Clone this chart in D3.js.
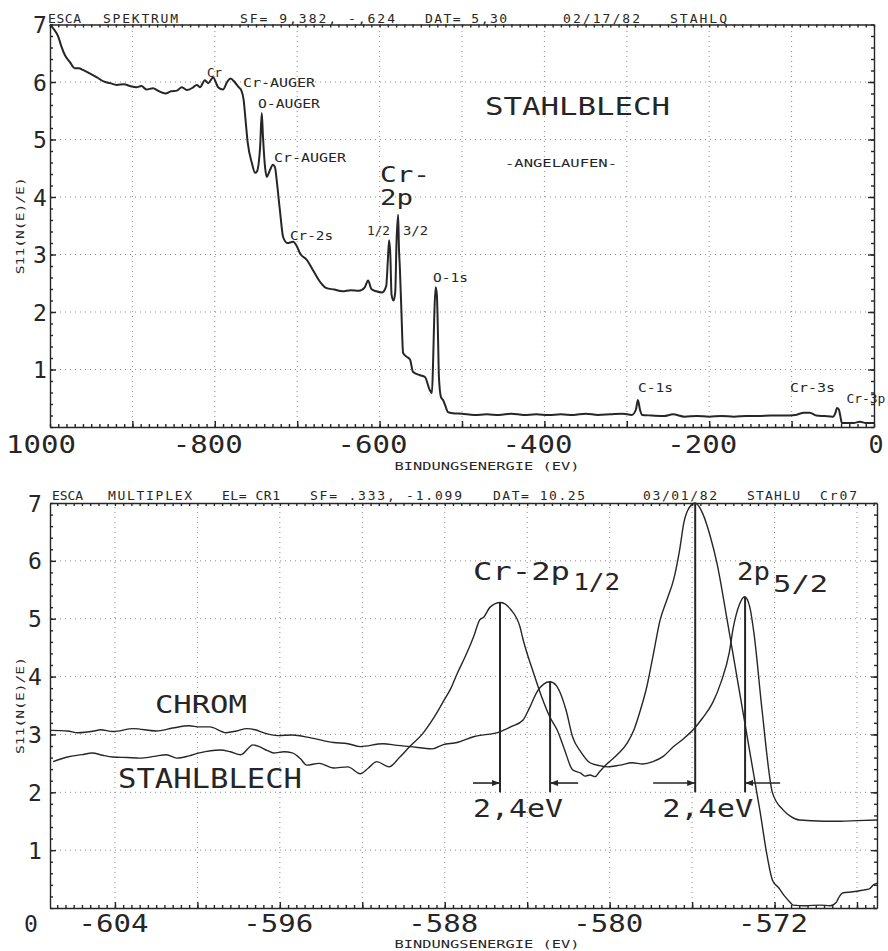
<!DOCTYPE html>
<html><head><meta charset="utf-8">
<script src="https://cdn.jsdelivr.net/npm/d3@7"></script>
<style>
body{margin:0;background:#fff}
.grid{stroke:#8c8c8c;stroke-width:1;stroke-dasharray:1 4;fill:none}
text{font-family:'DejaVu Sans Mono','Liberation Mono',monospace;fill:#262626}
</style>
</head><body>
<svg id="c" width="888" height="951"></svg>
<script>
// ---------------- DATA ----------------
// Survey spectrum (top): binding energy (eV) and signal S11(N(E)/E)
const topEnergy = [-1000,-996,-990,-986,-982,-976,-970,-965,-960,-953,-943,-935,-927,-919,-910,-903,-895,-889,-883,-875,-868,-860,-853,-846,-840,-834,-827,-822,-818,-812,-808,-802,-796,-790,-785,-781,-776,-771,-768,-765,-763,-760,-755,-751,-749,-745,-743,-741.5,-739,-737,-733,-729.5,-727,-724.5,-721,-717,-712,-705,-700,-697,-688,-681,-672,-665,-655,-645,-635,-625,-618,-614,-610,-604,-597,-592,-590,-588.5,-587,-585.5,-583,-581,-579.5,-577.5,-576.5,-575.5,-573.5,-571.5,-567,-563,-559.5,-551,-545,-539,-536.5,-535,-533.5,-532,-530.5,-529,-528,-525.5,-523,-520.5,-517,-511,-500,-485,-470,-455,-440,-425,-410,-395,-380,-365,-350,-335,-320,-305,-294,-289,-286.5,-284,-281.5,-270,-255,-244,-230,-215,-200,-185,-170,-155,-140,-125,-110,-95,-85,-78,-70,-60,-50,-46.5,-45,-42.5,-41,-39,-25,-17,-10,0];
const topSignal = [7.0,6.93,6.79,6.61,6.47,6.35,6.24,6.24,6.21,6.16,6.08,6.01,5.98,5.95,5.96,5.93,5.91,5.93,5.87,5.89,5.84,5.80,5.84,5.85,5.91,5.86,5.90,5.95,5.91,6.03,5.98,6.08,5.91,5.87,6.00,6.06,6.00,5.91,5.86,5.69,5.39,4.94,4.59,4.42,4.44,4.87,5.46,5.04,4.52,4.35,4.47,4.56,4.52,4.24,3.77,3.30,3.20,3.22,3.13,3.03,2.90,2.73,2.52,2.42,2.39,2.36,2.38,2.37,2.43,2.55,2.40,2.36,2.34,2.45,2.90,3.25,3.00,2.30,2.20,2.35,3.20,3.69,3.10,2.80,2.00,1.29,1.22,1.17,0.96,0.90,0.87,0.64,0.59,1.17,2.00,2.43,2.30,1.50,0.87,0.52,0.47,0.38,0.26,0.24,0.23,0.21,0.22,0.21,0.23,0.21,0.22,0.21,0.22,0.21,0.23,0.21,0.22,0.23,0.21,0.30,0.47,0.30,0.21,0.20,0.19,0.22,0.18,0.19,0.18,0.19,0.18,0.19,0.19,0.20,0.20,0.21,0.25,0.25,0.20,0.19,0.18,0.26,0.33,0.30,0.20,0.07,0.07,0.09,0.07,0.07];

// Multiplex Cr-2p (bottom): CHROM
const chromEnergy = [-607.1,-606.3,-605.8,-605.0,-604.7,-604.1,-603.1,-602.0,-601.2,-600.4,-599.9,-599.4,-598.6,-598.1,-597.6,-597.2,-596.8,-596.1,-595.4,-594.5,-593.4,-592.7,-592.1,-591.0,-590.3,-589.7,-588.6,-588.1,-587.4,-586.6,-585.3,-584.8,-584.2,-583.9,-583.5,-583.2,-582.9,-582.6,-582.4,-582.1,-581.8,-581.4,-580.95,-580.5,-580.1,-579.5,-578.9,-578.4,-577.9,-577.4,-576.9,-576.4,-575.95,-575.5,-575.0,-574.6,-574.2,-574.0,-573.7,-573.45,-573.2,-573.0,-572.6,-572.1,-571.6,-571.2,-570.8,-569.6,-568.8,-568.0,-567.0];
const chromSignal = [3.07,3.06,3.03,3.06,3.08,3.05,3.10,3.06,3.11,3.15,3.13,3.13,3.03,3.06,3.10,3.08,3.03,2.98,2.99,2.94,2.86,2.84,2.79,2.84,2.81,2.79,2.75,2.82,2.86,2.96,3.05,3.13,3.25,3.45,3.75,3.87,3.91,3.85,3.72,3.40,2.96,2.70,2.51,2.46,2.44,2.47,2.51,2.49,2.53,2.62,2.79,2.93,3.08,3.28,3.55,3.90,4.41,4.85,5.25,5.38,5.20,4.75,3.40,1.99,1.70,1.58,1.52,1.50,1.50,1.51,1.52];

// Multiplex Cr-2p (bottom): STAHLBLECH
const stahlEnergy = [-607.0,-606.3,-605.6,-605.1,-604.6,-604.1,-603.4,-602.8,-602.1,-601.5,-601.0,-600.4,-599.9,-598.9,-598.4,-597.9,-597.3,-597.0,-596.6,-596.3,-595.8,-595.4,-595.0,-594.7,-594.1,-593.4,-592.7,-592.1,-591.7,-591.3,-590.7,-590.2,-589.7,-589.1,-588.6,-588.1,-587.7,-587.4,-587.0,-586.6,-586.3,-586.1,-585.8,-585.3,-584.8,-584.35,-584.2,-583.7,-583.3,-582.9,-582.55,-582.2,-581.8,-581.4,-581.2,-580.95,-580.7,-580.5,-580.1,-579.6,-579.15,-578.8,-578.5,-578.2,-577.9,-577.55,-577.2,-576.9,-576.6,-576.4,-576.1,-575.85,-575.5,-575.1,-574.8,-574.3,-573.9,-573.5,-573.1,-572.7,-572.36,-572.1,-571.8,-571.5,-571.25,-571.1,-570.5,-569.8,-569.3,-569.0,-568.9,-568.7,-568.2,-567.7,-567.4,-567.2,-567.0];
const stahlSignal = [2.53,2.61,2.65,2.68,2.64,2.61,2.60,2.59,2.62,2.65,2.59,2.63,2.68,2.73,2.70,2.65,2.82,2.79,2.72,2.68,2.70,2.68,2.58,2.47,2.50,2.42,2.44,2.32,2.42,2.53,2.44,2.60,2.79,3.00,3.25,3.55,3.80,4.05,4.35,4.69,4.98,5.03,5.20,5.28,5.16,4.86,4.64,4.07,3.65,3.30,3.08,2.75,2.39,2.33,2.28,2.30,2.27,2.35,2.50,2.66,2.85,3.10,3.43,3.82,4.35,4.98,5.35,5.67,6.20,6.66,6.94,7.00,6.83,6.40,5.97,4.98,4.15,3.32,2.49,1.66,0.90,0.48,0.35,0.20,0.10,0.05,0.04,0.05,0.04,0.10,0.17,0.26,0.28,0.31,0.33,0.40,0.43];

// Peak markers (bottom) and 2,4 eV shifts
const peakEnergy = [-585.32, -582.89, -575.85, -573.43];
const peakTop = [5.28, 3.91, 7.0, 5.38];
const markerBase = 2.0;
const arrowFrom = [-586.63, -581.53, -577.89, -571.73];

// Ticks
const topXTickValues = [-1000, -800, -600, -400, -200, 0];
const topXTickLabels = ["1000", "-800", "-600", "-400", "-200", "0"];
const topYTickValues = [1, 2, 3, 4, 5, 6, 7];
const botXTickValues = [-604, -596, -588, -580, -572];
const botXTickLabels = ["-604", "-596", "-588", "-580", "-572"];
const botYTickValues = [0, 1, 2, 3, 4, 5, 6, 7];

// ---------------- DRAW ----------------
const ink = "#262626";
const svg = d3.select("#c");
svg.append("rect").attr("width", 888).attr("height", 951).attr("fill", "#fff");
const defs = svg.append("defs");
defs.append("marker").attr("id", "ah").attr("viewBox", "0 0 8 6")
  .attr("refX", 8).attr("refY", 3).attr("markerWidth", 8).attr("markerHeight", 6)
  .attr("markerUnits", "userSpaceOnUse").attr("orient", "auto")
  .append("path").attr("d", "M0,0 L8,3 L0,6 Z").attr("fill", ink);

const xTop = d3.scaleLinear().domain([-1000, 0]).range([50, 874]);
const yTop = d3.scaleLinear().domain([0, 7]).range([427, 24.5]);
const xBot = d3.scaleLinear().domain([-607.15, -567.03]).range([50, 877]);
const yBot = d3.scaleLinear().domain([0, 7]).range([908, 503]);

function txt(g, s, x, y, size, len, anchor, adj) {
  const t = g.append("text").attr("x", x).attr("y", y).attr("font-size", size).text(s);
  if (len) t.attr("textLength", len).attr("lengthAdjust", adj || "spacingAndGlyphs");
  if (anchor) t.attr("text-anchor", anchor);
  return t;
}

function frame(x, y, xGrid, xMinor, yGrid, yMinor) {
  const [x0, x1] = x.range(), [y0, y1] = y.range();
  const g = svg.append("g");
  g.selectAll(null).data(xGrid).join("line").attr("class", "grid")
    .attr("x1", d => x(d)).attr("x2", d => x(d)).attr("y1", y0).attr("y2", y1);
  g.selectAll(null).data(yGrid).join("line").attr("class", "grid")
    .attr("x1", x0).attr("x2", x1).attr("y1", d => y(d)).attr("y2", d => y(d));
  const ax = (gen, t, keepDomain) => {
    const a = g.append("g").attr("transform", t).call(gen);
    a.selectAll("line,path").attr("stroke", ink).attr("stroke-width", 1.4);
    if (!keepDomain) a.select(".domain").remove();
  };
  ax(d3.axisBottom(x).tickValues(xGrid).tickSize(-6).tickSizeOuter(0).tickFormat(""), `translate(0,${y0})`, true);
  ax(d3.axisBottom(x).tickValues(xMinor).tickSize(-3).tickFormat(""), `translate(0,${y0})`);
  ax(d3.axisTop(x).tickValues(xMinor).tickSize(-3).tickSizeOuter(0).tickFormat(""), `translate(0,${y1})`, true);
  ax(d3.axisLeft(y).tickValues(yMinor).tickSize(-3).tickSizeOuter(0).tickFormat(""), `translate(${x0},0)`, true);
  ax(d3.axisLeft(y).tickValues(yGrid).tickSize(-6).tickFormat(""), `translate(${x0},0)`);
  ax(d3.axisRight(y).tickValues(yMinor).tickSize(-3).tickSizeOuter(0).tickFormat(""), `translate(${x1},0)`, true);
  ax(d3.axisRight(y).tickValues(yGrid).tickSize(-6).tickFormat(""), `translate(${x1},0)`);
  return g;
}

// ---- Top panel ----
frame(xTop, yTop, d3.range(-900, 0, 100), d3.range(-1000, 1, 10),
  [1, 2, 3, 4, 5, 6], d3.range(0, 7.01, 0.2).map(v => +v.toFixed(1)));
const lineT = d3.line().x(d => xTop(d[0])).y(d => yTop(d[1])).curve(d3.curveMonotoneX);
svg.append("path").datum(d3.zip(topEnergy, topSignal)).attr("d", lineT)
  .attr("fill", "none").attr("stroke", ink).attr("stroke-width", 2).attr("stroke-linejoin", "round");

// header top
const hdrT = [["ESCA", 48, 33], ["SPEKTRUM", 103, 75], ["SF= 9,382, -,624", 240, 155], ["DAT= 5,30", 425, 82], ["02/17/82", 563, 77], ["STAHLQ", 670, 57]];
hdrT.forEach(h => txt(svg, h[0], h[1], 22.5, 13, h[2], null, "spacing"));

// y labels top
topYTickValues.forEach(v => txt(svg, String(v), 40, yTop(v) + 8.5, 23, null, "middle"));
// x labels top
topXTickValues.forEach((v, i) => {
  const s = topXTickLabels[i];
  let cx = xTop(v) - 7;
  if (i === 0) cx = xTop(v) - 9;
  if (i === topXTickValues.length - 1) cx = xTop(v) + 2;
  txt(svg, s, cx, 453, 25, s.length > 1 ? 70 : null, "middle");
});
txt(svg, "BINDUNGSENERGIE (EV)", 487, 470, 11, 185, "middle");
txt(svg, "S11(N(E)/E)", 0, 0, 10, 97, "middle").attr("transform", `translate(24,${(yTop(0) + yTop(7)) / 2}) rotate(-90)`);

// annotations top [text, energy, value(baseline), font size, width]
const topNotes = [
  ["Cr", -809.5, 6.09, 12, 15], ["Cr-AUGER", -765.8, 5.91, 12, 72], ["O-AUGER", -747.6, 5.55, 12, 62],
  ["Cr-AUGER", -728.2, 4.61, 12, 72], ["Cr-", -599.5, 4.26, 21, 50], ["2p", -599.5, 3.86, 21, 33],
  ["Cr-2s", -708.7, 3.25, 12, 43], ["1/2", -615.3, 3.34, 12, 23], ["3/2", -571.6, 3.34, 12, 25],
  ["O-1s", -535.2, 2.52, 12, 35], ["C-1s", -286.4, 0.61, 12, 35], ["Cr-3s", -101.9, 0.61, 12, 45],
  ["Cr-3p", -33.5, 0.42, 12, 39], ["STAHLBLECH", -472.1, 5.43, 24, 185], ["-ANGELAUFEN-", -447.8, 4.52, 11, 112]
];
topNotes.forEach(n => txt(svg, n[0], xTop(n[1]), yTop(n[2]), n[3], n[4]));

// ---- Bottom panel ----
frame(xBot, yBot, d3.range(-604, -567, 4), d3.range(-606.8, -567.03, 0.4).map(v => +v.toFixed(1)),
  [1, 2, 3, 4, 5, 6], d3.range(0, 7.01, 0.2).map(v => +v.toFixed(1)));
const lineB = d3.line().x(d => xBot(d[0])).y(d => yBot(d[1])).curve(d3.curveMonotoneX);
svg.append("path").datum(d3.zip(chromEnergy, chromSignal)).attr("d", lineB)
  .attr("fill", "none").attr("stroke", ink).attr("stroke-width", 1.4);
svg.append("path").datum(d3.zip(stahlEnergy, stahlSignal)).attr("d", lineB)
  .attr("fill", "none").attr("stroke", ink).attr("stroke-width", 1.4);

// peak markers
svg.selectAll(null).data(peakEnergy).join("line")
  .attr("x1", d => xBot(d)).attr("x2", d => xBot(d))
  .attr("y1", (d, i) => yBot(peakTop[i])).attr("y2", yBot(markerBase))
  .attr("stroke", ink).attr("stroke-width", 2);
svg.selectAll(null).data(peakEnergy).join("line")
  .attr("x1", (d, i) => xBot(arrowFrom[i])).attr("x2", d => xBot(d))
  .attr("y1", yBot(2.16)).attr("y2", yBot(2.16))
  .attr("stroke", ink).attr("stroke-width", 1.6).attr("marker-end", "url(#ah)");

// header bottom
const hdrB = [["ESCA", 52, 31], ["MULTIPLEX", 108, 84], ["EL= CR1", 222, 58], ["SF= .333, -1.099", 310, 152], ["DAT= 10.25", 493, 92], ["03/01/82", 643, 74], ["STAHLU", 747, 53], ["Cr07", 820, 37]];
hdrB.forEach(h => txt(svg, h[0], h[1], 499.5, 13, h[2], null, "spacing"));

botYTickValues.forEach(v => {
  if (v === 0) txt(svg, "0", 31, 932, 23, null, "middle");
  else txt(svg, String(v), 35, yBot(v) + 8.5, 23, null, "middle");
});
botXTickValues.forEach((v, i) => txt(svg, botXTickLabels[i], xBot(v) - 1.5, 932, 25, 70, "middle"));
txt(svg, "BINDUNGSENERGIE (EV)", 487, 948, 11, 185, "middle");
txt(svg, "S11(N(E)/E)", 0, 0, 10, 97, "middle").attr("transform", `translate(24,${(yBot(0) + yBot(7)) / 2}) rotate(-90)`);

const botNotes = [
  ["CHROM", -602.06, 3.37, 24, 92], ["STAHLBLECH", -603.85, 2.07, 26, 184],
  ["Cr-2p", -586.63, 5.67, 24, 97], ["1/2", -581.77, 5.50, 23, 47],
  ["2p", -573.82, 5.67, 24, 33], ["5/2", -572.07, 5.46, 23, 55],
  ["2,4eV", -586.63, 1.57, 24, 90], ["2,4eV", -577.45, 1.57, 24, 91]
];
botNotes.forEach(n => txt(svg, n[0], xBot(n[1]), yBot(n[2]), n[3], n[4]));
</script>
</body></html>
